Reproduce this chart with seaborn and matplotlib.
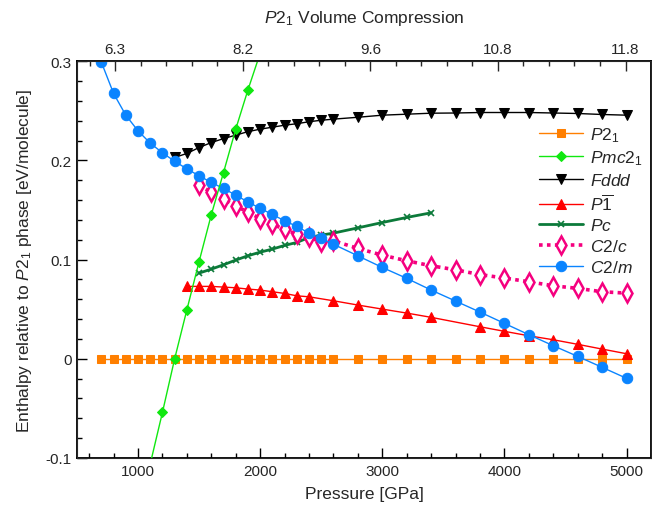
import seaborn as sns
import matplotlib
matplotlib.use("Agg")
import matplotlib.pyplot as plt
from matplotlib.ticker import MultipleLocator, FixedLocator, FuncFormatter

sns.set_style("ticks")
plt.rcParams['font.family'] = ['Liberation Sans', 'DejaVu Sans']
plt.rcParams['mathtext.fontset'] = 'custom'
plt.rcParams['mathtext.it'] = 'Liberation Sans:italic'
plt.rcParams['mathtext.rm'] = 'Liberation Sans'
plt.rcParams['mathtext.default'] = 'it'
plt.rcParams['axes.unicode_minus'] = False

# pressure grids [GPa]
p_full = [700, 800, 900, 1000, 1100, 1200, 1300, 1400, 1500, 1600, 1700, 1800, 1900, 2000,
          2100, 2200, 2300, 2400, 2500, 2600, 2800, 3000, 3200, 3400, 3600, 3800, 4000,
          4200, 4400, 4600, 4800, 5000]
p_fddd = [1300, 1400, 1500, 1600, 1700, 1800, 1900, 2000, 2100, 2200, 2300, 2400, 2500, 2600,
          2800, 3000, 3200, 3400, 3600, 3800, 4000, 4200, 4400, 4600, 4800, 5000]
p_p1bar = [1400, 1500, 1600, 1700, 1800, 1900, 2000, 2100, 2200, 2300, 2400, 2600, 2800,
           3000, 3200, 3400, 3800, 4000, 4200, 4400, 4600, 4800, 5000]
p_pmc = [1100, 1200, 1300, 1400, 1500, 1600, 1700, 1800, 1900, 2000]
p_pc = [1500, 1600, 1700, 1800, 1900, 2000, 2100, 2200, 2300, 2400, 2500, 2600, 2800, 3000,
        3200, 3400]
p_c2c = [1500, 1600, 1700, 1800, 1900, 2000, 2100, 2200, 2300, 2400, 2500, 2600, 2800, 3000,
         3200, 3400, 3600, 3800, 4000, 4200, 4400, 4600, 4800, 5000]

# enthalpies relative to P2_1 [eV/molecule]
h_p21 = [0.0] * len(p_full)
h_pmc = [-0.106, -0.054, 0.0, 0.0494, 0.098, 0.1452, 0.1878, 0.2315, 0.2711, 0.308]
h_fddd = [0.203, 0.207, 0.213, 0.218, 0.222, 0.2255, 0.229, 0.2315, 0.2335, 0.2355, 0.237,
          0.239, 0.2405, 0.2416, 0.2435, 0.2456, 0.2466, 0.2476, 0.2478, 0.2483, 0.2483,
          0.2483, 0.2478, 0.2473, 0.2463, 0.2456]
h_p1bar = [0.073, 0.073, 0.073, 0.0723, 0.0716, 0.0703, 0.0693, 0.0676, 0.0659, 0.0635,
           0.0625, 0.0585, 0.0542, 0.0501, 0.0461, 0.0418, 0.0323, 0.0277, 0.0232, 0.0192,
           0.0146, 0.0098, 0.0051]
h_pc = [0.0864, 0.0904, 0.0948, 0.0995, 0.1039, 0.1075, 0.1106, 0.1143, 0.1173, 0.1223,
        0.1247, 0.1267, 0.132, 0.1374, 0.1425, 0.1472]
h_c2c = [0.1754, 0.1677, 0.161, 0.1539, 0.148, 0.1413, 0.1358, 0.1304, 0.1257, 0.1223, 0.118,
         0.119, 0.1113, 0.1045, 0.0988, 0.0938, 0.0897, 0.0849, 0.0814, 0.0777, 0.0736,
         0.071, 0.0676, 0.0662]
h_c2m = [0.299, 0.2675, 0.2456, 0.2298, 0.2174, 0.2077, 0.1991, 0.1915, 0.1845, 0.1778,
         0.1717, 0.165, 0.1581, 0.1517, 0.1455, 0.1391, 0.1335, 0.1267, 0.1214, 0.1155,
         0.1038, 0.0921, 0.0811, 0.0693, 0.0582, 0.0471, 0.0357, 0.0243, 0.0132, 0.0024,
         -0.0086, -0.0197]

top_labels = ['6.3', '8.2', '9.6', '10.8', '11.8']

fig, ax = plt.subplots(figsize=(6.52, 5.10), dpi=100)
fig.subplots_adjust(left=0.118, right=0.9985, bottom=0.1, top=0.878)

sns.lineplot(x=p_full, y=h_p21, ax=ax, color='#ff7f00', lw=1, marker='s', ms=6,
             mec='#ff7f00', label=r'$P2_1$', zorder=2)
sns.lineplot(x=p_pmc, y=h_pmc, ax=ax, color='#10e810', lw=1, marker='D', ms=5,
             mec='#10e810', label=r'$Pmc2_1$', zorder=5)
sns.lineplot(x=p_fddd, y=h_fddd, ax=ax, color='black', lw=1, marker='v', ms=7.5,
             mec='black', label=r'$Fddd$', zorder=3)
sns.lineplot(x=p_p1bar, y=h_p1bar, ax=ax, color='#ff0000', lw=1, marker='^', ms=7.5,
             mec='#ff0000', label=r'$P\overline{1}$', zorder=3)
sns.lineplot(x=p_pc, y=h_pc, ax=ax, color='#0c7a3a', lw=2, marker='x', ms=5,
             mec='#0c7a3a', mew=1.2, label=r'$Pc$', zorder=3)
sns.lineplot(x=p_c2c, y=h_c2c, ax=ax, color='#f5007f', lw=2.6, ls=(0, (1, 1.2)), marker='d',
             ms=8.7, mfc='white', mec='#f5007f', mew=1.8, label=r'$C2/c$', zorder=3)
sns.lineplot(x=p_full, y=h_c2m, ax=ax, color='#0a84ff', lw=1, marker='o', ms=7.5,
             mec='#0a84ff', label=r'$C2/m$', zorder=4)

ax.set_xlim(500, 5200)
ax.set_ylim(-0.1, 0.3)
ax.xaxis.set_major_locator(MultipleLocator(1000))
ax.xaxis.set_minor_locator(MultipleLocator(200))
ax.yaxis.set_major_locator(MultipleLocator(0.1))
ax.yaxis.set_minor_locator(MultipleLocator(0.02))
ax.yaxis.set_major_formatter(FuncFormatter(lambda v, pos: '%g' % round(v, 3)))
ax.tick_params(which='both', direction='in', top=False, right=False, labelsize=11,
               color='black', width=1, pad=4)
ax.tick_params(which='major', length=7)
ax.tick_params(which='minor', length=3.5)
for s in ax.spines.values():
    s.set_linewidth(1.3)
    s.set_color('black')

ax.set_xlabel('Pressure [GPa]', fontsize=12.5, labelpad=6)
ax.set_ylabel(r'Enthalpy relative to $P2_1$ phase [eV/molecule]', fontsize=12.5, labelpad=8)

ax2 = ax.twiny()
ax2.set_xlim(-0.3, 4.2)
ax2.xaxis.set_major_locator(FixedLocator([0, 1, 2, 3, 4]))
ax2.set_xticklabels(top_labels)
ax2.xaxis.set_minor_locator(MultipleLocator(0.2))
ax2.tick_params(which='both', direction='in', labelsize=11, width=1, pad=4)
ax2.tick_params(which='major', length=7)
ax2.tick_params(which='minor', length=3.5)
ax2.set_xlabel(r'$P2_1$ Volume Compression', fontsize=12.5, labelpad=14)

ax.legend(loc='upper left', bbox_to_anchor=(0.778, 0.879), frameon=False, fontsize=12.5,
          handlelength=2.5, handletextpad=0.4, labelspacing=0.27, borderpad=0.4)

fig.savefig('out.png', dpi=100)
